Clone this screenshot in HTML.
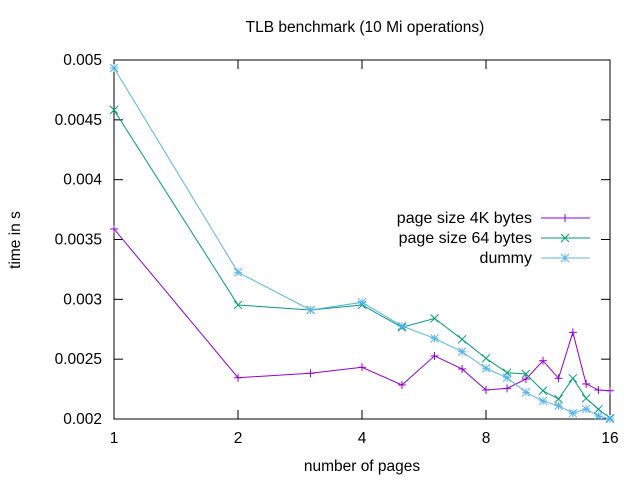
<!DOCTYPE html>
<html><head><meta charset="utf-8"><style>
body{margin:0;background:#fff}
svg{display:block;font-family:"Liberation Sans",sans-serif;font-size:15.5px}
</style></head><body>
<svg id="chart" width="640" height="480" viewBox="0 0 640 480">
<rect width="640" height="480" fill="#fff"/>
<text x="365" y="32" text-anchor="middle">TLB benchmark (10 Mi operations)</text>
<text x="362" y="471" text-anchor="middle">number of pages</text>
<text transform="translate(20,240) rotate(-90)" text-anchor="middle">time in s</text>
<g id="axes"></g>
<g id="series"></g>
<g id="legend"></g>
</svg>
<script>
const xs = [1,2,3,4,5,6,7,8,9,10,11,12,13,14,15,16];
const s4k = [0.003588,0.002345,0.002382,0.002432,0.002284,0.002527,0.002418,0.002242,0.002256,0.002334,0.002487,0.00234,0.002724,0.002293,0.002242,0.002236];
const s64 = [0.004582,0.002953,0.002911,0.002953,0.002766,0.002841,0.002666,0.002507,0.002387,0.002376,0.002236,0.002167,0.00234,0.002173,0.002081,0.002006];
const sDummy = [0.004933,0.003226,0.002911,0.002975,0.002777,0.002674,0.002562,0.002424,0.002345,0.002223,0.00215,0.002111,0.002048,0.002084,0.002025,0.002];
const xTicks = [1,2,4,8,16];
const yTicks = [0.002,0.0025,0.003,0.0035,0.004,0.0045,0.005];
const yTickLabels = ["0.002","0.0025","0.003","0.0035","0.004","0.0045","0.005"];
const seriesNames = ["page size 4K bytes","page size 64 bytes","dummy"];

const L=114,R=610,T=60,B=419;
const X=v=>L+Math.log2(v)/4*(R-L);
const Y=v=>B-(v-0.002)/0.003*(B-T);
const NS="http://www.w3.org/2000/svg";
function mk(tag,attrs,parent){const e=document.createElementNS(NS,tag);for(const k in attrs)e.setAttribute(k,attrs[k]);parent.appendChild(e);return e;}
const axes=document.getElementById('axes');
const border=mk('rect',{x:L,y:T,width:R-L,height:B-T,fill:'none',stroke:'#000','stroke-width':1},axes);


yTicks.forEach((v,i)=>{const y=Y(v);
 mk('line',{x1:L,x2:L+9,y1:y,y2:y,stroke:'#000'},axes);
 mk('line',{x1:R,x2:R-9,y1:y,y2:y,stroke:'#000'},axes);
 const t=mk('text',{x:102,y:y+5,'text-anchor':'end'},axes);t.textContent=yTickLabels[i];
 
 
});
xTicks.forEach(v=>{const x=X(v);
 mk('line',{x1:x,x2:x,y1:B,y2:B-9,stroke:'#000'},axes);
 mk('line',{x1:x,x2:x,y1:T,y2:T+9,stroke:'#000'},axes);
 const t=mk('text',{x:x,y:443,'text-anchor':'middle'},axes);t.textContent=v;
 
 
});
function marker(g,x,y,type,c){
 const o={stroke:c,'stroke-width':1};
 if(type===0||type===2){mk('line',{x1:x-4,x2:x+4,y1:y,y2:y,...o},g);mk('line',{x1:x,x2:x,y1:y-4,y2:y+4,...o},g);}
 if(type===1||type===2){mk('line',{x1:x-4,x2:x+4,y1:y-4,y2:y+4,...o},g);mk('line',{x1:x-4,x2:x+4,y1:y+4,y2:y-4,...o},g);}
}
const colors=["#9400d3","#009e73","#56b4e9"];
const sg=document.getElementById('series');
[s4k,s64,sDummy].forEach((s,k)=>{
 const g=mk('g',{},sg);
 
 
 mk('polyline',{points:s.map((v,i)=>X(xs[i])+','+Y(v)).join(' '),fill:'none',stroke:colors[k],'stroke-width':1},g);
 s.forEach((v,i)=>marker(g,X(xs[i]),Y(v),k,colors[k]));
});
const lg=document.getElementById('legend');
seriesNames.forEach((n,k)=>{const y=218+k*20;
 const g=mk('g',{},lg);
 
 
 const t=mk('text',{x:532,y:y+5,'text-anchor':'end','font-size':'16px'},g);t.textContent=n;
 mk('line',{x1:541,x2:590,y1:y,y2:y,stroke:colors[k]},g);
 marker(g,565,y,k,colors[k]);
});
</script>
</body></html>
